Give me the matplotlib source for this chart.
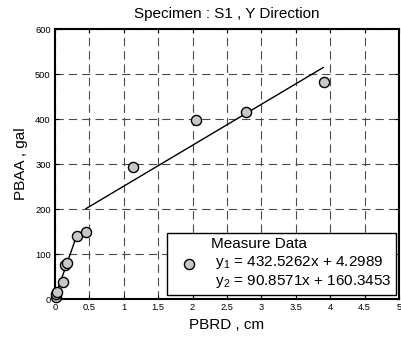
import matplotlib
matplotlib.use("Agg")
import numpy as np
import matplotlib.pyplot as plt
from matplotlib.lines import Line2D

# Measured peak response pairs (PBRD in cm, PBAA in gal)
pbrd = [0.01, 0.02, 0.03, 0.11, 0.15, 0.17, 0.32, 0.45, 1.14, 2.05, 2.77, 3.91]
pbaa = [6, 11, 16, 39, 76, 80, 140, 150, 294, 398, 416, 483]

# Two linear fits: slope, intercept and the x range each is drawn over
fit1 = (432.5262, 4.2989)
fit1_range = [0.0, 0.316]
fit2 = (90.8571, 160.3453)
fit2_range = [0.45, 3.9]

x_ticks = [0, 0.5, 1, 1.5, 2, 2.5, 3, 3.5, 4, 4.5, 5]
x_ticklabels = ["0", "0.5", "1", "1.5", "2", "2.5", "3", "3.5", "4", "4.5", "5"]
y_ticks = [0, 100, 200, 300, 400, 500, 600]

plt.rcParams.update({
    "font.family": ["Liberation Sans", "DejaVu Sans"],
    "mathtext.default": "regular",
    "font.size": 11,
})

fig = plt.figure(figsize=(4.01, 3.38), dpi=100)
ax = fig.add_axes([0.137, 0.1145, 0.858, 0.7995])

ax.set_xlim(0, 5)
ax.set_ylim(0, 600)
ax.set_xticks(x_ticks)
ax.set_xticklabels(x_ticklabels)
ax.set_yticks(y_ticks)
ax.tick_params(direction="in", length=3, width=0.8, labelsize=6.7,
               top=True, right=True, pad=3)

ax.grid(True, color="#4a4a4a", linewidth=0.8, linestyle=(0, (7.5, 4.5)))
ax.set_axisbelow(True)
for side in ax.spines.values():
    side.set_linewidth(1.5)

# Fitted lines
for (slope, icpt), rng in [(fit1, fit1_range), (fit2, fit2_range)]:
    xs = np.array(rng)
    ax.plot(xs, slope * xs + icpt, color="black", linewidth=1.0, zorder=3)

ax.plot(pbrd, pbaa, linestyle="none", marker="o", markersize=7.3,
        markerfacecolor="#c8c8c8", markeredgecolor="black",
        markeredgewidth=1.0, zorder=4, clip_on=False)

label = ("Measure Data\n"
         " $y_1$ = %.4fx + %.4f\n"
         " $y_2$ = %.4fx + %.4f" % (fit1[0], fit1[1], fit2[0], fit2[1]))
handle = Line2D([], [], linestyle="none", marker="o", markersize=7.3,
                markerfacecolor="#c8c8c8", markeredgecolor="black",
                markeredgewidth=1.0)
leg = ax.legend([handle], [label], loc="lower right",
                bbox_to_anchor=(0.991, 0.017), borderaxespad=0,
                fancybox=False, framealpha=1, edgecolor="black",
                handlelength=2.2, handletextpad=0.35, borderpad=0.3,
                labelspacing=0.2, fontsize=11)
leg.get_frame().set_linewidth(1.0)
leg.set_zorder(5)

ax.set_title("Specimen : S1 , Y Direction", fontsize=11, pad=8)
ax.set_xlabel("PBRD , cm", labelpad=4)
ax.set_ylabel("PBAA , gal", labelpad=5)

fig.savefig("out.png", dpi=100)
